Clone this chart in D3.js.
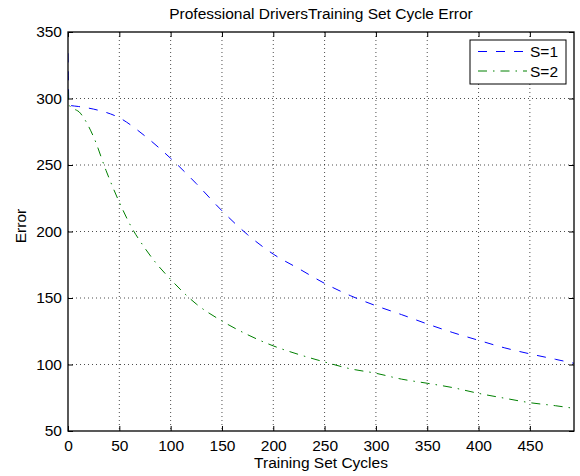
<!DOCTYPE html>
<html>
<head>
<meta charset="utf-8">
<script src="https://cdn.jsdelivr.net/npm/d3@7"></script>
<style>
  body { margin: 0; background: #fff; }
  text { font-family: "Liberation Sans", Arial, Helvetica, sans-serif; }
</style>
</head>
<body>
<svg id="chart" width="580" height="476"></svg>
<script>
// values
const s1Cycles = [0, 1, 10, 25, 50, 75, 100, 125, 150, 175, 200, 225, 250, 275, 300, 325, 350, 375, 400, 425, 450, 475, 493]
const s1Error  = [334, 295, 294, 292, 285.5, 271.8, 255, 236, 215.6, 197.6, 183, 172, 161, 151.8, 144.2, 137.5, 130.5, 124, 118.2, 112.6, 108, 103.9, 100.9]
const s2Cycles = [0, 1, 12, 25, 37, 50, 62, 74, 85, 100, 125, 150, 175, 200, 225, 250, 275, 300, 325, 350, 375, 400, 425, 450, 475, 493]
const s2Error  = [306, 295, 289, 271, 246, 222, 203, 188.5, 177, 164, 145.5, 132.7, 122.4, 114, 107.5, 101.9, 96.8, 93.4, 89, 85.9, 82.6, 78.3, 74.7, 71.3, 69, 67]
const xTicks = [0, 50, 100, 150, 200, 250, 300, 350, 400, 450]
const yTicks = [50, 100, 150, 200, 250, 300, 350]
const seriesNames = ["S=1", "S=2"]

const pL = 68, pR = 574, pT = 32, pB = 431
const svg = d3.select("#chart")

const x = d3.scaleLinear().domain([0, 493]).range([pL, pR])
const y = d3.scaleLinear().domain([50, 350]).range([pB, pT])

// grid
const grid = svg.append("g").attr("id","grid")
grid.selectAll(".vgrid").data(xTicks.slice(1)).join("line").attr("class","vgrid")
  .attr("x1", d => x(d)).attr("x2", d => x(d)).attr("y1", pT).attr("y2", pB)
grid.selectAll(".hgrid").data(yTicks.slice(1, -1)).join("line").attr("class","hgrid")
  .attr("x1", pL).attr("x2", pR).attr("y1", d => y(d)).attr("y2", d => y(d))
grid.selectAll("line").attr("stroke","#000").attr("stroke-width",0.7).attr("stroke-dasharray","1,3")

// series
svg.append("clipPath").attr("id","plotclip").append("rect")
  .attr("x", pL).attr("y", pT).attr("width", pR - pL).attr("height", pB - pT)
const line = d3.line().x(d => x(d[0])).y(d => y(d[1])).curve(d3.curveMonotoneX)
const s1 = s1Cycles.map((c, i) => [c, s1Error[i]])
const s2 = s2Cycles.map((c, i) => [c, s2Error[i]])
svg.append("path").attr("d", line(s1)).attr("clip-path","url(#plotclip)")
  .attr("fill","none").attr("stroke","#0000ff").attr("stroke-width",1).attr("stroke-dasharray","9,9")
svg.append("path").attr("d", line(s2)).attr("clip-path","url(#plotclip)")
  .attr("fill","none").attr("stroke","#008000").attr("stroke-width",1).attr("stroke-dasharray","9,6,1.5,6")

// axes, ticks pointing inward on all four sides
const fs = 15.5
svg.append("g").attr("transform", `translate(0,${pB})`)
  .call(d3.axisBottom(x).tickValues(xTicks).tickSize(-5).tickPadding(9))
svg.append("g").attr("transform", `translate(${pL},0)`)
  .call(d3.axisLeft(y).tickValues(yTicks).tickSize(-5).tickPadding(6))
svg.append("g").attr("transform", `translate(0,${pT})`)
  .call(d3.axisTop(x).tickValues(xTicks).tickSize(-5).tickFormat(""))
svg.append("g").attr("transform", `translate(${pR},0)`)
  .call(d3.axisRight(y).tickValues(yTicks).tickSize(-5).tickFormat(""))
svg.selectAll(".domain").remove()
svg.selectAll(".tick line").attr("stroke","#000").attr("stroke-width",1)
svg.selectAll(".tick text").attr("font-size", fs).attr("fill","#000")
  .style("font-family", '"Liberation Sans", Arial, sans-serif')

svg.append("rect").attr("x", pL).attr("y", pT).attr("width", pR - pL).attr("height", pB - pT)
  .attr("fill","none").attr("stroke","#000").attr("stroke-width",1.3)

// labels
svg.append("text").attr("x", (pL + pR) / 2).attr("y", 19).attr("text-anchor","middle").attr("font-size", fs)
  .text("Professional DriversTraining Set Cycle Error")
svg.append("text").attr("x", (pL + pR) / 2).attr("y", 468).attr("text-anchor","middle").attr("font-size", fs)
  .text("Training Set Cycles")
svg.append("text").attr("transform","translate(26,226) rotate(-90)").attr("text-anchor","middle").attr("font-size", fs)
  .text("Error")

// legend
const legend = svg.append("g").attr("id","legend")
legend.append("rect").attr("x",470).attr("y",40).attr("width",96).attr("height",44)
  .attr("fill","#fff").attr("stroke","#000").attr("stroke-width",1)
const styles = [{c:"#0000ff", d:"9,9"}, {c:"#008000", d:"9,6,1.5,6"}]
legend.selectAll(".legline").data(seriesNames).join("line").attr("class","legline")
  .attr("x1",478).attr("x2",527).attr("y1",(d,i)=>51.5 + i*19.5).attr("y2",(d,i)=>51.5 + i*19.5)
  .attr("stroke",(d,i)=>styles[i].c).attr("stroke-dasharray",(d,i)=>styles[i].d).attr("stroke-width",1)
legend.selectAll(".legtext").data(seriesNames).join("text").attr("class","legtext")
  .attr("x",530).attr("y",(d,i)=>57 + i*19.5).attr("font-size", fs)
  .text(d => d)
</script>
</body>
</html>
